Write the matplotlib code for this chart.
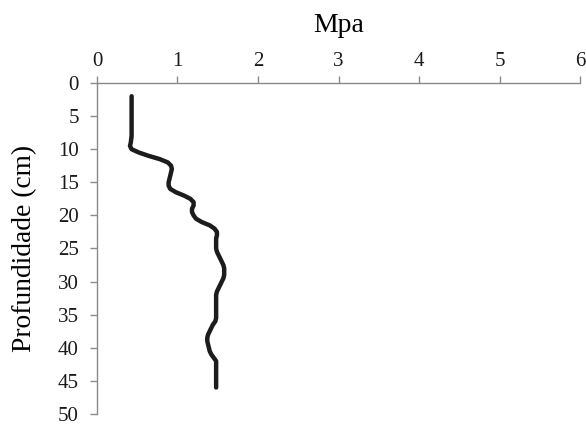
import matplotlib
matplotlib.use("Agg")
import matplotlib.pyplot as plt

# resistencia a penetracao (MPa) por profundidade (cm)
depth = [2, 3, 4, 5, 6, 7, 8, 9, 9.5, 10, 10.5, 11, 11.5, 12, 12.5, 13,
         13.5, 14, 14.5, 15, 15.5, 16, 16.5, 17, 17.5, 18, 18.5, 19, 19.5,
         20, 20.5, 21, 21.5, 22, 22.5, 23, 23.5, 24, 24.5, 25, 25.5, 26,
         26.5, 27, 27.5, 28, 28.5, 29, 29.5, 30, 30.5, 31, 31.5, 32, 33,
         34, 35, 35.5, 36, 36.5, 37, 37.5, 38, 38.5, 39, 39.5, 40, 40.5,
         41, 41.5, 42, 43, 44, 45, 46]
mpa = [0.43, 0.43, 0.43, 0.43, 0.43, 0.43, 0.43, 0.42, 0.41, 0.43, 0.52,
       0.64, 0.78, 0.88, 0.92, 0.93, 0.92, 0.91, 0.90, 0.89, 0.89, 0.91,
       0.98, 1.08, 1.16, 1.20, 1.20, 1.18, 1.18, 1.20, 1.23, 1.30, 1.40,
       1.46, 1.49, 1.49, 1.48, 1.48, 1.48, 1.48, 1.49, 1.51, 1.53, 1.55,
       1.57, 1.58, 1.58, 1.58, 1.57, 1.55, 1.53, 1.51, 1.49, 1.48, 1.48,
       1.48, 1.48, 1.48, 1.47, 1.44, 1.42, 1.40, 1.38, 1.37, 1.37, 1.38,
       1.39, 1.40, 1.42, 1.45, 1.48, 1.48, 1.48, 1.48, 1.48]

x_ticks = [0, 1, 2, 3, 4, 5, 6]
y_ticks = [0, 5, 10, 15, 20, 25, 30, 35, 40, 45, 50]

plt.rcParams["font.family"] = ["Liberation Serif", "DejaVu Serif"]

fig = plt.figure(figsize=(5.86, 4.25), dpi=100)
ax = fig.add_axes([0.1655, 0.0259, 0.8243, 0.7788])

ax.plot(mpa, depth, color="#1c1c1c", linewidth=3.2,
        solid_joinstyle="round", solid_capstyle="round")

ax.set_xlim(0, 6)
ax.set_ylim(50, 0)
ax.set_xticks(x_ticks)
ax.set_yticks(y_ticks)

ax.xaxis.tick_top()
ax.xaxis.set_label_position("top")
ax.set_xlabel("Mpa", fontsize=20, labelpad=14)
ax.set_ylabel("Profundidade (cm)", fontsize=19.8, labelpad=15)

for side in ("right", "bottom"):
    ax.spines[side].set_visible(False)
for side in ("left", "top"):
    ax.spines[side].set_color("#8a8a8a")
    ax.spines[side].set_linewidth(1.0)

ax.tick_params(axis="both", direction="out", length=5, width=1.0,
               color="#8a8a8a", labelsize=15, labelcolor="#1a1a1a")
ax.tick_params(axis="x", pad=4)
ax.tick_params(axis="y", pad=8)

fig.savefig("out.png", dpi=100)
